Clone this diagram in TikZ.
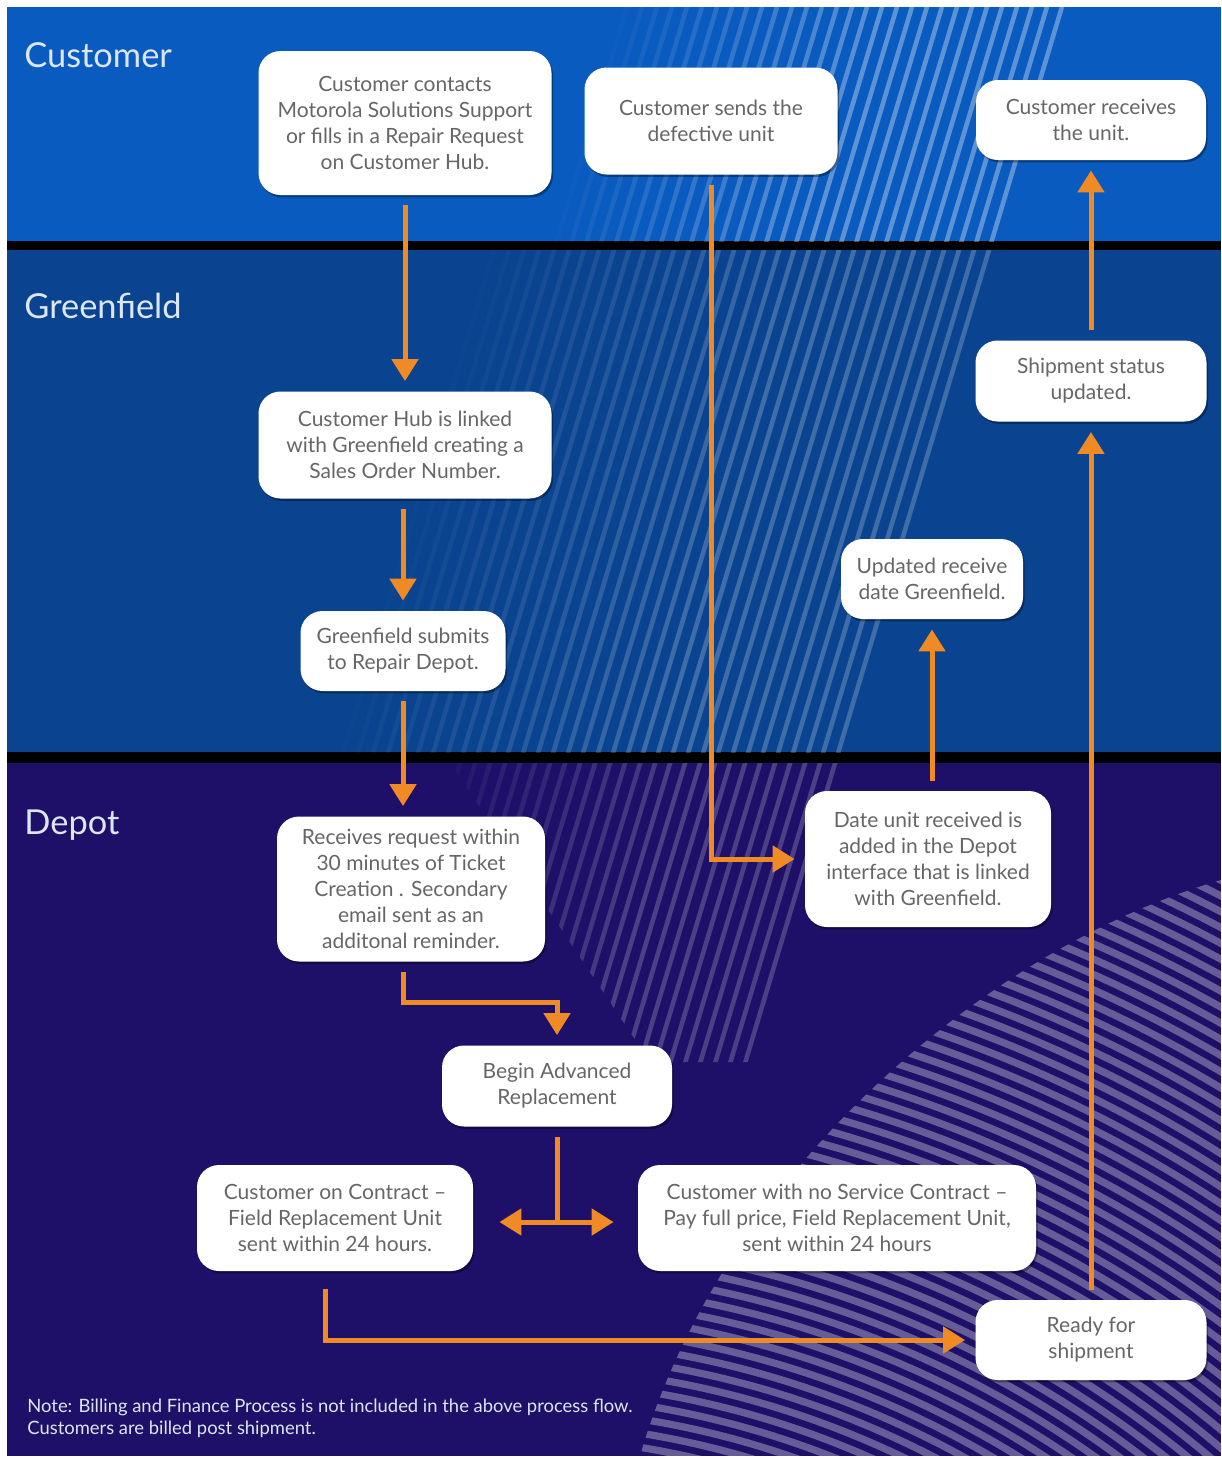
\documentclass[tikz,border=0pt]{standalone}
\usepackage{fontspec}
\setmainfont{Lato}
\usetikzlibrary{arrows.meta,calc,shadows}

\definecolor{custblue}{HTML}{0A5BC0}
\definecolor{greenblue}{HTML}{0A4490}
\definecolor{depotpurple}{HTML}{1E0F68}
\definecolor{arroworange}{HTML}{F08A24}
\definecolor{boxtext}{HTML}{666666}
\definecolor{lanetext}{HTML}{DCE6F4}

\begin{document}
\begin{tikzpicture}[x=0.5pt,y=-0.5pt,
  box/.style={fill=white, rounded corners=11pt, align=center, text=boxtext,
    font=\fontsize{10.5}{13}\selectfont, inner sep=0pt,
    drop shadow={shadow xshift=0.8pt, shadow yshift=-1.2pt, opacity=0.35, fill=black}},
  tip/.tip={Triangle[width=13pt,length=11pt]},
  arrline/.style={draw=arroworange, line width=2.5pt},
  arr/.style={arrline, -tip, shorten <=5pt, shorten >=5pt},
  lane/.style={anchor=west, text=lanetext, font=\fontsize{17.2}{20}\selectfont, inner sep=0pt},
  stripe/.style={white, line width=2.3pt}
]
\useasboundingbox (0,0) rectangle (1222,1458);
\fill[white] (0,0) rectangle (1222,1458);
\fill[custblue] (7,7) rectangle (1221,243);
\fill[greenblue] (7,250) rectangle (1221,753);
\fill[depotpurple] (7,762) rectangle (1221,1456);
\fill[black] (7,241) rectangle (1221,250);
\fill[black] (7,752) rectangle (1221,763);

% diagonal stripe bundle
\begin{scope}
  \clip (7,7) rectangle (1221,241);
  \foreach \k in {0,...,30} {
    \pgfmathsetmacro\op{\k<=12 ? 0.34 : max(0,0.34*(30-\k)/18)}
    \draw[stripe, opacity=\op] ({1064-15*\k},0) -- ({1064-15*\k-0.3*1460},1460);
  }
\end{scope}
\begin{scope}
  \clip (7,250) rectangle (1221,752);
  \foreach \k in {0,...,34} {
    \pgfmathsetmacro\op{\k<=12 ? 0.22 : max(0,0.22*(34-\k)/22)}
    \draw[stripe, opacity=\op] ({1064-15*\k},0) -- ({1064-15*\k-0.3*1460},1460);
  }
\end{scope}
\begin{scope}
  \clip (450,763) -- (840,763) -- (752,1062) -- (650,1062) -- cycle;
  \foreach \k in {0,...,28} {
    \pgfmathsetmacro\op{\k<=10 ? 0.2 : max(0,0.2*(28-\k)/18)}
    \draw[stripe, opacity=\op] ({1064-15*\k},0) -- ({1064-15*\k-0.3*1460},1460);
  }
\end{scope}
% concentric arcs bottom right
\begin{scope}
  \clip (1221,880) .. controls (980,950) and (720,1180) .. (640,1456) -- (1221,1456) -- cycle;
  \foreach \r in {850,864,...,1620} {
    \draw[white, opacity=0.32, line width=3.6pt] (500,2300) circle[radius=\r];
  }
\end{scope}

% lane labels
\node[lane] (lc) at (24,55) {Customer};
\node[lane] (lg) at (24,306) {Greenfield};
\node[lane] (ld) at (24,825) {Depot};

% process boxes
\node[box, minimum width=146.5pt, minimum height=72pt] (n1) at (405,123)
  {Customer contacts\\Motorola Solutions Support\\or fills in a Repair Request\\on Customer Hub.};
\node[box, minimum width=126.5pt, minimum height=53.5pt] (n2) at (711,121)
  {Customer sends the\\defective unit};
\node[box, minimum width=115pt, minimum height=40pt] (n3) at (1091,120)
  {Customer receives\\the unit.};
\node[box, minimum width=146.5pt, minimum height=53.5pt] (n4) at (405,445)
  {Customer Hub is linked\\with Greenfield creating a\\Sales Order Number.};
\node[box, minimum width=102.5pt, minimum height=40pt] (n5) at (403,651)
  {Greenfield submits\\to Repair Depot.};
\node[box, minimum width=115.5pt, minimum height=40.5pt] (n6) at (1091,381)
  {Shipment status\\updated.};
\node[box, minimum width=91pt, minimum height=40pt] (n7) at (932,579)
  {Updated receive\\date Greenfield.};
\node[box, minimum width=134pt, minimum height=72.5pt] (n8) at (411,889)
  {Receives request within\\30 minutes of Ticket\\Creation . Secondary\\email sent as an\\additonal reminder.};
\node[box, minimum width=123pt, minimum height=68pt] (n9) at (928,859)
  {Date unit received is\\added in the Depot\\interface that is linked\\with Greenfield.};
\node[box, minimum width=115pt, minimum height=40.5pt] (n10) at (557,1086)
  {Begin Advanced\\Replacement};
\node[box, minimum width=138pt, minimum height=53pt] (n11) at (335,1218)
  {Customer on Contract –\\Field Replacement Unit\\sent within 24 hours.};
\node[box, minimum width=199pt, minimum height=53pt] (n12) at (837,1218)
  {Customer with no Service Contract –\\Pay full price, Field Replacement Unit,\\sent within 24 hours};
\node[box, minimum width=115.5pt, minimum height=40pt] (n13) at (1091,1340)
  {Ready for\\shipment};

% note
\node[anchor=north west, align=left, text=lanetext, inner sep=0pt,
  font=\fontsize{9.2}{11}\selectfont] (note) at (27,1399)
  {Note: Billing and Finance Process is not included in the above process flow.\\Customers are billed post shipment.};

% connectors
\draw[arr] (n1.south) -- (n4.north);
\draw[arr] (n4.south -| n5.north) -- (n5.north);
\draw[arr] (n5.south) -- (n5.south |- n8.north);
\draw[arr] (n2.south) |- (n9.west);
\draw[arr] (n8.south -| n5.south) -- ++(0,41) -| (n10.north);
\coordinate (fork) at (n10.south |- n11.east);
\draw[arrline, shorten <=5pt] (n10.south) -- ([yshift=-2pt]fork);
\draw[arrline, tip-tip, shorten <=13pt, shorten >=12pt] ([yshift=-2pt]n11.east) -- ([yshift=-2pt]n12.west);
\draw[arr, shorten <=9pt] ([xshift=-5pt]n11.south) |- (n13.west);
\draw[arr] (n13.north) -- (n6.south);
\draw[arr] (n9.north -| n7.south) -- (n7.south);
\draw[arr] (n6.north) -- (n3.south);
\end{tikzpicture}
\end{document}
